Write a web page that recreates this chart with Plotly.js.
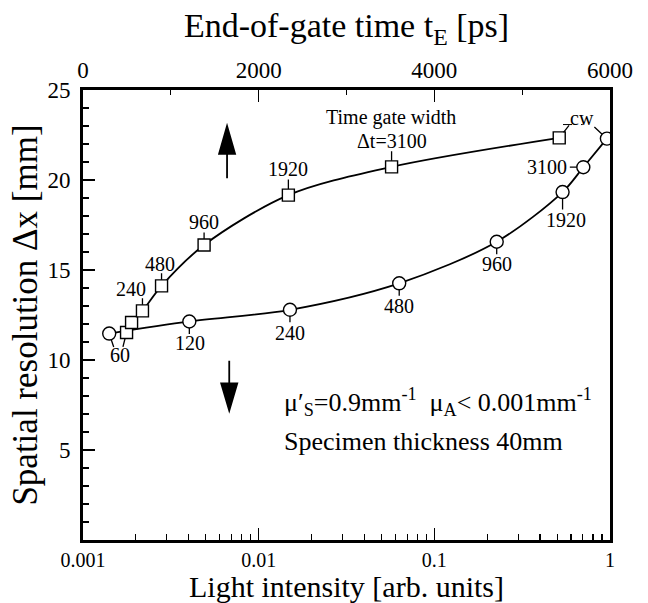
<!DOCTYPE html>
<html>
<head>
<meta charset="utf-8">
<script src="https://cdn.plot.ly/plotly-3.0.1.min.js"></script>
<style>html,body{margin:0;padding:0;background:#fff;}#chart{width:648px;height:603px;}</style>
</head>
<body>
<div id="chart"></div>
<script>
// ---- data ----
// squares: upper curve
const intensitySq = [0.00177, 0.00189, 0.00218, 0.0028, 0.00489, 0.01476, 0.0571, 0.514];
const dxSq        = [11.53, 12.08, 12.73, 14.12, 16.39, 19.16, 20.73, 22.34];
const labelsSq    = ['', '', '240', '480', '960', '1920', 'Δt=3100', ''];
// circles: lower curve
const intensityCi = [0.00141, 0.00403, 0.01507, 0.0631, 0.2265, 0.537, 0.705, 0.96];
const dxCi        = [11.47, 12.14, 12.79, 14.26, 16.57, 19.33, 20.71, 22.30];
const labelsCi    = ['60', '120', '240', '480', '960', '1920', '3100', 'cw'];
// axes
const xTickVals   = [0.001, 0.01, 0.1, 1];
const xTickText   = ['0.001', '0.01', '0.1', '1'];
const topTickVals = [0, 2000, 4000, 6000];
const yTickVals   = [5, 10, 15, 20, 25];

const FONT = '"Liberation Serif", "Times New Roman", serif';
const lg = v => Math.log10(v);

const traces = [
  {
    x: intensityCi, y: dxCi, type: 'scatter', mode: 'lines+markers',
    line: {color: '#000', width: 1.8, shape: 'spline', smoothing: 0.9},
    marker: {symbol: 'circle', size: 13, color: '#fff', line: {color: '#000', width: 1.4}},
    hoverinfo: 'x+y', showlegend: false
  },
  {
    x: intensitySq, y: dxSq, type: 'scatter', mode: 'lines+markers',
    line: {color: '#000', width: 1.8, shape: 'spline', smoothing: 0.9},
    marker: {symbol: 'square', size: 12, color: '#fff', line: {color: '#000', width: 1.4}},
    hoverinfo: 'x+y', showlegend: false
  },
  { x: [], y: [], xaxis: 'x2', yaxis: 'y', type: 'scatter', showlegend: false, hoverinfo: 'skip' }
];

const ann = [];
const labelFont = {family: FONT, size: 20, color: '#000'};
function label(xv, yv, text, dx, dy, extra) {
  ann.push(Object.assign({x: lg(xv), y: yv, xref: 'x', yref: 'y', text: text, showarrow: false,
    xshift: dx, yshift: -dy, font: labelFont}, extra || {}));
}
function leader(xv, yv, ax, ay, standoff) {
  ann.push({x: lg(xv), y: yv, xref: 'x', yref: 'y', text: '', showarrow: true, arrowhead: 0,
    arrowwidth: 1.3, arrowcolor: '#000', ax: ax, ay: ay, standoff: standoff});
}

// square labels
label(intensitySq[2], dxSq[2], labelsSq[2], -11, -22);
label(intensitySq[3], dxSq[3], labelsSq[3], -2, -22);
label(intensitySq[4], dxSq[4], labelsSq[4], 0, -23);
label(intensitySq[5], dxSq[5], labelsSq[5], 0, -26);
label(intensitySq[6], dxSq[6], labelsSq[6], 0, -26);
label(intensitySq[6], dxSq[6], 'Time gate width', -1, -49);
for (const i of [2, 3, 4]) leader(intensitySq[i], dxSq[i], 0, -14, 6);
leader(intensitySq[5], dxSq[5], 0, -17, 6);
leader(intensitySq[6], dxSq[6], 0, -17, 6);
leader(intensitySq[0], dxSq[0], -4, 16, 6);
leader(intensitySq[7], dxSq[7], 11, -14, 7);

// circle labels
label(intensityCi[0], dxCi[0], labelsCi[0], 11, 21);
label(intensityCi[1], dxCi[1], labelsCi[1], 1, 22);
label(intensityCi[2], dxCi[2], labelsCi[2], 0, 23);
label(intensityCi[3], dxCi[3], labelsCi[3], 0, 23);
label(intensityCi[4], dxCi[4], labelsCi[4], 0, 22);
label(intensityCi[5], dxCi[5], labelsCi[5], 3, 28);
label(intensityCi[6], dxCi[6], labelsCi[6], -14, 0, {xanchor: 'right'});
label(intensityCi[7], dxCi[7], labelsCi[7], -25, -21);
leader(intensityCi[0], dxCi[0], 5, 15, 6.5);
for (const i of [1, 2, 3, 4]) leader(intensityCi[i], dxCi[i], 0, 14, 6.5);
leader(intensityCi[5], dxCi[5], 0, 19, 6.5);
leader(intensityCi[6], dxCi[6], -15, 0, 6.5);
leader(intensityCi[7], dxCi[7], -14, -13, 6.5);

// parameters text
ann.push({xref: 'paper', yref: 'paper', x: 0.378, y: 0.262, xanchor: 'left', showarrow: false,
  text: 'μ′<sub>S</sub>=0.9mm<sup>-1</sup>  μ<sub>A</sub>&lt; 0.001mm<sup>-1</sup>',
  font: {family: FONT, size: 26, color: '#000'}});
ann.push({xref: 'paper', yref: 'paper', x: 0.378, y: 0.183, xanchor: 'left', showarrow: false,
  text: 'Specimen thickness 40mm', font: {family: FONT, size: 26, color: '#000'}});

const shapes = [
  // up arrow
  {type: 'path', xref: 'x2', yref: 'y', xsizemode: 'pixel', xanchor: 1640,
   path: 'M0,20.1L0,21.6M-8,21.45L0,23.0L8,21.45Z', fillcolor: '#000', line: {color: '#000', width: 1.8}},
  // down arrow
  {type: 'path', xref: 'x2', yref: 'y', xsizemode: 'pixel', xanchor: 1665,
   path: 'M0,9.96L0,8.6M-8,8.70L0,7.19L8,8.70Z', fillcolor: '#000', line: {color: '#000', width: 1.8}},
  // short dashed underline by "cw"
  {type: 'line', xref: 'x2', yref: 'y', x0: 5465, x1: 5690, y0: 23.08, y1: 23.08,
   line: {color: '#000', width: 1, dash: 'dash'}}
];

const layout = {
  width: 648, height: 603,
  margin: {l: 83, r: 38, t: 90, b: 63, pad: 0},
  paper_bgcolor: '#fff', plot_bgcolor: '#fff',
  font: {family: FONT, color: '#000'},
  showlegend: false,
  xaxis: {
    type: 'log', range: [-3, 0],
    tickvals: xTickVals, ticktext: xTickText,
    ticks: 'inside', ticklen: 12, tickwidth: 1.5, tickcolor: '#000',
    minor: {ticks: 'inside', ticklen: 6, tickwidth: 1.2, tickcolor: '#000', dtick: 'D1', showgrid: false},
    showline: true, linewidth: 3, linecolor: '#000', mirror: true,
    showgrid: false, zeroline: false,
    tickfont: {family: FONT, size: 20, color: '#000'},
    title: {text: 'Light intensity [arb. units]', font: {family: FONT, size: 30, color: '#000'}, standoff: 4}
  },
  xaxis2: {
    overlaying: 'x', side: 'top', anchor: 'y', range: [0, 6000],
    tickvals: topTickVals,
    ticks: 'inside', ticklen: 12, tickwidth: 1.5, tickcolor: '#000',
    minor: {ticks: 'inside', ticklen: 5, tickwidth: 1.2, tickcolor: '#000', dtick: 1000, showgrid: false},
    showline: true, linewidth: 3, linecolor: '#000',
    showgrid: false, zeroline: false,
    tickfont: {family: FONT, size: 23, color: '#000'},
    title: {text: 'End-of-gate time t<sub>E</sub> [ps]', font: {family: FONT, size: 34, color: '#000'}, standoff: 10}
  },
  yaxis: {
    range: [0, 25], tickvals: yTickVals,
    ticks: 'inside', ticklen: 12, tickwidth: 1.5, tickcolor: '#000',
    minor: {ticks: 'inside', ticklen: 6, tickwidth: 1.2, tickcolor: '#000', dtick: 1, showgrid: false},
    showline: true, linewidth: 3, linecolor: '#000', mirror: true,
    showgrid: false, zeroline: false, ticklabelstandoff: 5,
    tickfont: {family: FONT, size: 23, color: '#000'},
    title: {text: 'Spatial resolution Δx [mm]', font: {family: FONT, size: 35, color: '#000'}, standoff: 0}
  },
  annotations: ann,
  shapes: shapes
};

Plotly.newPlot('chart', traces, layout, {displayModeBar: false, staticPlot: true});
</script>
</body>
</html>
